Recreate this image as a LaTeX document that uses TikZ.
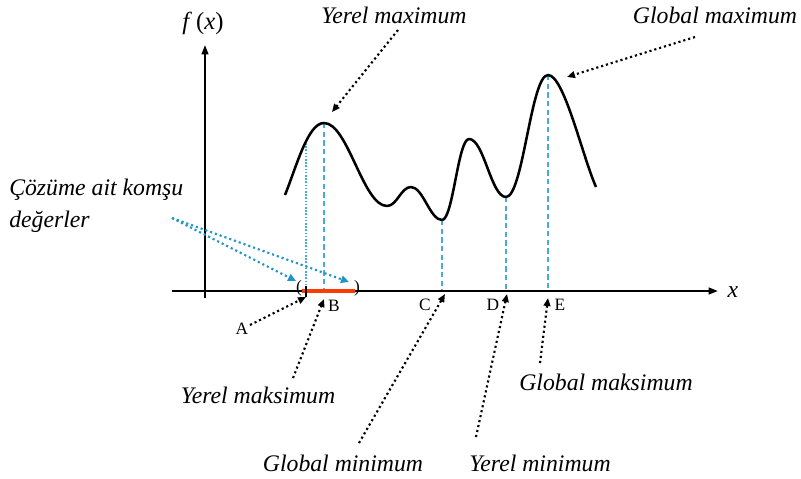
\documentclass[tikz,border=0pt]{standalone}
\usepackage{fontspec}
\setmainfont{Liberation Serif}[ItalicFont={Liberation Serif Italic},BoldFont={Liberation Serif Bold}]
\usetikzlibrary{arrows.meta}
\definecolor{lblue}{RGB}{70,172,210}
\definecolor{dblue}{RGB}{30,150,200}
\definecolor{redseg}{RGB}{255,60,0}
\tikzset{
  lbl/.style={font=\fontsize{17.8}{24}\selectfont\itshape, inner sep=0pt},
  pt/.style={font=\fontsize{13}{15}\selectfont, inner sep=0pt},
  axis/.style={line width=1.5pt, -{Triangle[length=7pt,width=5pt]}},
  blkdot/.style={line width=1.6pt, dash pattern=on 1.6pt off 2.2pt, -{Triangle[length=6pt,width=5pt]}},
  bludot/.style={dblue, line width=1.6pt, dash pattern=on 1.6pt off 2.2pt, -{Triangle[length=6pt,width=5.5pt]}},
  vdash/.style={lblue, line width=0.8pt, dash pattern=on 4pt off 2.5pt},
  vdot/.style={lblue, line width=1.2pt, dash pattern=on 1.2pt off 1.2pt},
}
\begin{document}
\begin{tikzpicture}[x=0.75pt,y=-0.75pt]
\useasboundingbox (0,0) rectangle (801,479);
% guide lines
\draw[vdot] (306,143) -- (306,290);
\draw[vdash] (324,123) -- (324,290);
\draw[vdash] (442,220) -- (442,290);
\draw[vdash] (506,197) -- (506,290);
\draw[vdash] (548,75) -- (548,290);
% axes
\coordinate (xs) at (172,291);
\coordinate (xe) at (718,291);
\coordinate (ys) at (205,298);
\coordinate (ye) at (205,45);
\draw[axis] (xs) -- (xe);
\draw[axis] (ys) -- (ye);
\node[font=\fontsize{18.5}{20}\selectfont, inner sep=0pt] (fx) at (203,23) {\textit{f}\,(\textit{x})};
\node[lbl] (xl) at (733,292) {x};
% red interval
\draw[redseg, line width=3.5pt] (302,291) -- (355,291);
\node[pt] (lp) at (299,288) {(};
\node[pt] (rp) at (357,288) {)};
\draw[line width=1.3pt] (306,286) -- (306,297);
% curve
\draw[line width=1.9pt, line join=round]
 (285,195) .. controls (297,165) and (308,123) .. (324,123)
 .. controls (348,123) and (363,206) .. (387,206)
 .. controls (397,206) and (401,187) .. (411,187)
 .. controls (423,187) and (430,220) .. (442,220)
 .. controls (453,220) and (458,139) .. (469,139)
 .. controls (484,139) and (491,197) .. (506,197)
 .. controls (523,197) and (531,75) .. (548,75)
 .. controls (564,75) and (582,155) .. (596,187);
% point labels
\node[pt] (A) at (242,329) {A};
\node[pt] (B) at (334,306) {B};
\node[pt] (C) at (425,305) {C};
\node[pt] (D) at (493,305) {D};
\node[pt] (E) at (560,305) {E};
% text labels
\node[lbl] (ymax) at (394,15) {Yerel maximum};
\node[lbl] (gmax) at (715,15) {Global maximum};
\node[lbl] (ymaks) at (258,395) {Yerel maksimum};
\node[lbl] (gmin) at (343,463) {Global minimum};
\node[lbl] (ymin) at (540,463) {Yerel minimum};
\node[lbl] (gmaks) at (606,382) {Global maksimum};
\node[lbl, align=left, anchor=west] (coz) at (9,206) {Çözüme ait komşu\\değerler};
% arrow targets / starts
\coordinate (t1) at (332,112);
\coordinate (t2) at (567,77);
\coordinate (tA) at (306,297);
\coordinate (tB) at (324,299);
\coordinate (tC) at (445,294);
\coordinate (tD) at (507,294);
\coordinate (tE) at (548,298);
\coordinate (s1) at (398,30);
\coordinate (s2) at (695,37);
\coordinate (sA) at (250,325);
\coordinate (sB) at (293,378);
\coordinate (sC) at (359,443);
\coordinate (sD) at (476,437);
\coordinate (sE) at (540,363);
\coordinate (sb) at (172,218);
\coordinate (tb1) at (296,281);
\coordinate (tb2) at (349,282);
\draw[blkdot] (s1) -- (t1);
\draw[blkdot] (s2) -- (t2);
\draw[blkdot] (sA) -- (tA);
\draw[blkdot] (sB) -- (tB);
\draw[blkdot] (sC) -- (tC);
\draw[blkdot] (sD) -- (tD);
\draw[blkdot] (sE) -- (tE);
\draw[bludot] (sb) -- (tb1);
\draw[bludot] (sb) -- (tb2);
\end{tikzpicture}
\end{document}
